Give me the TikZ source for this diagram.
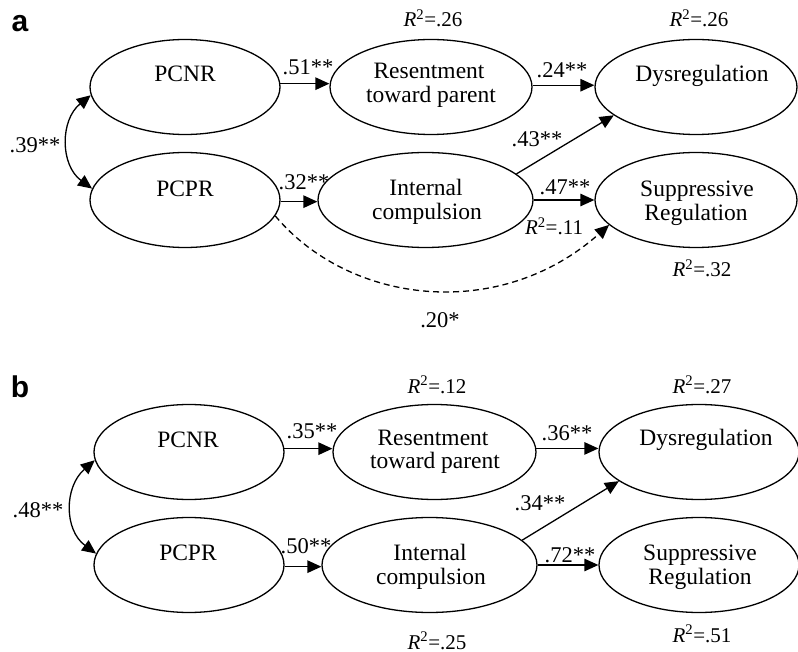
\documentclass[tikz,border=0pt]{standalone}
\usepackage{fontspec}
\setmainfont{Liberation Serif}
\newfontfamily\panelfont{Liberation Sans}
\usetikzlibrary{shapes.geometric,arrows.meta,calc}
\tikzset{
  lat/.style={draw, ellipse, line width=1.3pt, inner sep=0pt, minimum width=#1, minimum height=95pt},
  txt/.style={anchor=base, inner sep=0pt, font=\fontsize{23.5}{26}\selectfont},
  coef/.style={anchor=base, inner sep=0pt, font=\fontsize{22.5}{24}\selectfont},
  rsq/.style={anchor=base, inner sep=0pt, font=\fontsize{21}{24}\selectfont},
  panel/.style={anchor=base, inner sep=0pt, font={\fontsize{30}{32}\selectfont\panelfont\bfseries}},
  arr/.style={-{Triangle[length=14pt,width=12.5pt]}, line width=1.3pt},
  dbl/.style={{Triangle[length=14pt,width=12.5pt]}-{Triangle[length=14pt,width=12.5pt]}, line width=1.3pt},
}
\newcommand{\rsqv}[1]{\textit{R}\textsuperscript{2}=#1}
\begin{document}
\begin{tikzpicture}[x=1pt,y=-1pt]
\useasboundingbox (0,0) rectangle (798,652);
% ---------------- panel a ----------------
\node[panel] (la) at (20,32) {a};
\node[lat=190pt] (pcnrA) at (185,87) {};
\node[lat=190pt] (pcprA) at (185,200) {};
\node[lat=202pt] (resA) at (431,87) {};
\node[lat=215pt] (intA) at (425.5,200) {};
\node[lat=202pt] (dysA) at (696,87) {};
\node[lat=202pt] (supA) at (696,200) {};

\node[txt] (tpcnrA) at (185,82) {PCNR};
\node[txt] (tpcprA) at (185,197) {PCPR};
\node[txt] (tresA1) at (429,79) {Resentment};
\node[txt] (tresA2) at (431,103) {toward parent};
\node[txt] (tintA1) at (426,196) {Internal};
\node[txt] (tintA2) at (427,220) {compulsion};
\node[txt] (tdysA) at (702,82) {Dysregulation};
\node[txt] (tsupA1) at (697,197) {Suppressive};
\node[txt] (tsupA2) at (696,221) {Regulation};

\draw[arr] (pcnrA.2.4) -- (pcnrA.2.4 -| resA.west);
\draw[arr] (pcprA.-1.2) -- (pcprA.-1.2 -| intA.west);
\draw[arr] (resA.1.7) -- (resA.1.7 -| dysA.west);
\draw[arr] (intA.0.3) -- (intA.0.3 -| supA.west);
\draw[arr] (intA.16) -- (dysA.-161);
\draw[arr, dash pattern=on 6pt off 4pt] (pcprA.-10) .. controls (350,305) and (500,322) .. (supA.-164);
\draw[dbl] (pcnrA.-175) .. controls (60,120) and (60,165) .. (pcprA.173);

\node[coef] (cA1) at (308,75) {.51**};
\node[coef] (cA2) at (304,190) {.32**};
\node[coef] (cA3) at (562,78) {.24**};
\node[coef] (cA4) at (537,147) {.43**};
\node[coef] (cA5) at (565,195) {.47**};
\node[coef] (cA6) at (440,327) {.20*};
\node[coef] (cA7) at (35,153) {.39**};
\node[rsq] (rA1) at (433,27) {\rsqv{.26}};
\node[rsq] (rA2) at (699,27) {\rsqv{.26}};
\node[rsq] (rA3) at (702,277) {\rsqv{.32}};
\node[rsq] (rA4) at (554,235) {\rsqv{.11}};

% ---------------- panel b ----------------
\node[panel] (lb) at (20,397) {b};
\node[lat=190pt] (pcnrB) at (189,452) {};
\node[lat=190pt] (pcprB) at (189,565) {};
\node[lat=203pt] (resB) at (434.5,452) {};
\node[lat=215pt] (intB) at (429.5,565) {};
\node[lat=200pt] (dysB) at (699,452) {};
\node[lat=200pt] (supB) at (699,565) {};

\node[txt] (tpcnrB) at (188,447) {PCNR};
\node[txt] (tpcprB) at (188,560) {PCPR};
\node[txt] (tresB1) at (433,445) {Resentment};
\node[txt] (tresB2) at (435,468) {toward parent};
\node[txt] (tintB1) at (430,560) {Internal};
\node[txt] (tintB2) at (431,584) {compulsion};
\node[txt] (tdysB) at (706,445) {Dysregulation};
\node[txt] (tsupB1) at (700,560) {Suppressive};
\node[txt] (tsupB2) at (700,584) {Regulation};

\draw[arr] (pcnrB.2.4) -- (pcnrB.2.4 -| resB.west);
\draw[arr] (pcprB.-1.2) -- (pcprB.-1.2 -| intB.west);
\draw[arr] (resB.2.8) -- (resB.2.8 -| dysB.west);
\draw[arr] (intB.0.3) -- (intB.0.3 -| supB.west);
\draw[arr] (intB.15) -- (dysB.-160);
\draw[dbl] (pcnrB.-175) .. controls (64,487) and (64,530) .. (pcprB.173);

\node[coef] (cB1) at (312,438) {.35**};
\node[coef] (cB2) at (306,553) {.50**};
\node[coef] (cB3) at (567,440) {.36**};
\node[coef] (cB4) at (540,510) {.34**};
\node[coef] (cB5) at (570,562) {.72**};
\node[coef] (cB6) at (38,517) {.48**};
\node[rsq] (rB1) at (437,393) {\rsqv{.12}};
\node[rsq] (rB2) at (702,393) {\rsqv{.27}};
\node[rsq] (rB3) at (437,649) {\rsqv{.25}};
\node[rsq] (rB4) at (702,642) {\rsqv{.51}};
\end{tikzpicture}
\end{document}
